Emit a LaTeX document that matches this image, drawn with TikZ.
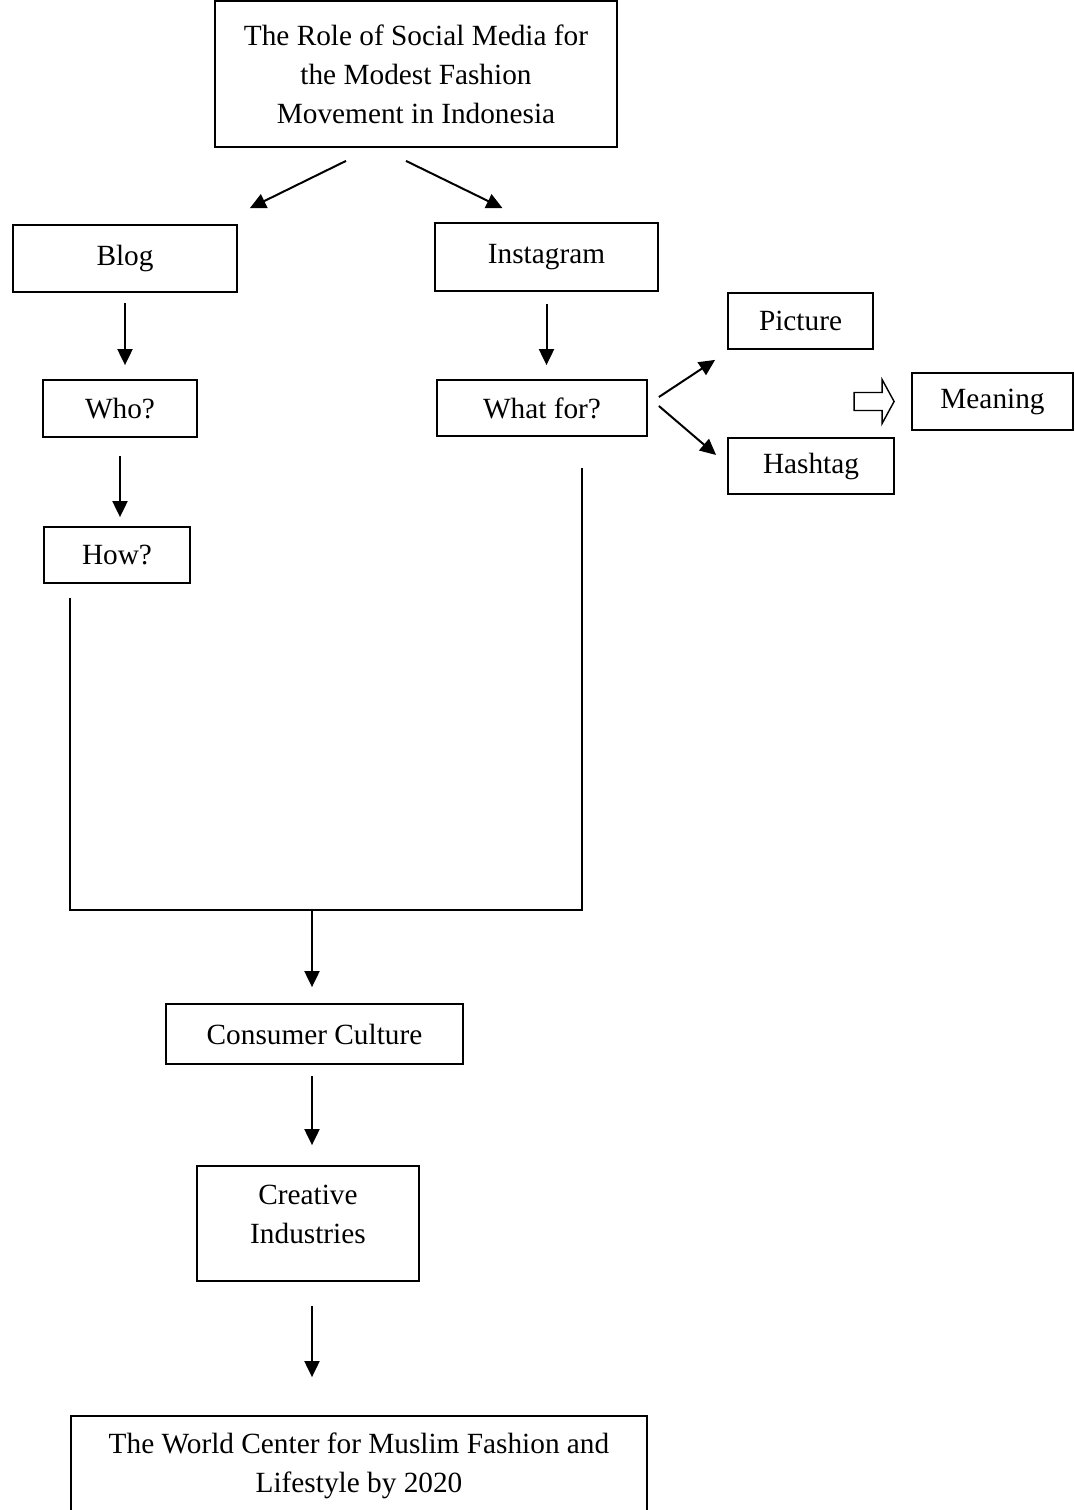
\documentclass[tikz,border=0pt]{standalone}
\usepackage{fontspec}
\setmainfont{Liberation Serif}
\usetikzlibrary{arrows.meta}
\usetikzlibrary{calc}

\begin{document}
\begin{tikzpicture}
		[x=1pt, y=-1pt, font=\fontsize{29.3}{39}\selectfont,
			box/.style={draw, line width=1.8pt, align=center, inner sep=0pt},
			arr/.style={line width=2pt, -{Triangle[length=16pt, width=15pt]}},
			link/.style={line width=1.8pt}]
		\useasboundingbox (0,0) rectangle (1075,1510);
		\clip (0,0) rectangle (1075,1510);
		% define the boxes
		\node[box, minimum width=402pt, minimum height=146pt] (title) at (416,74) {The Role of Social Media for\\the Modest Fashion\\Movement in Indonesia};
		\node[box, minimum width=224pt, minimum height=67pt] (blog) at (125,258.5) {Blog};
		\node[box, minimum width=223pt, minimum height=68pt] (insta) at (546.5,257) {Instagram};
		\node[box, minimum width=154pt, minimum height=57pt] (who) at (120,408.5) {Who?};
		\node[box, minimum width=146pt, minimum height=56pt] (how) at (117,555) {How?};
		\node[box, minimum width=210pt, minimum height=56pt] (whatfor) at (542,408) {What for?};
		\node[box, minimum width=145pt, minimum height=56pt] (picture) at (800.5,321) {Picture};
		\node[box, minimum width=166pt, minimum height=56pt] (hashtag) at (811,466) {Hashtag};
		\node[box, minimum width=161pt, minimum height=57pt] (meaning) at (992.5,401.5) {Meaning};
		\node[box, minimum width=297pt, minimum height=60pt] (consumer) at (314.5,1034) {Consumer Culture};
		\node[box, minimum width=222pt, minimum height=115pt, text depth=18pt] (creative) at (308,1223.5) {Creative\\Industries};
		\node[box, minimum width=576pt, minimum height=100pt] (world) at (359,1466) {The World Center for Muslim Fashion and\\Lifestyle by 2020};
		% arrows from the title
		\draw[arr] ($(title.south)+(-70,13)$) to ($(blog.north east)+(12,-16)$);
		\draw[arr] ($(title.south)+(-10,13)$) to ($(insta.north)+(-44,-14)$);
		% blog branch
		\draw[arr, shorten <=10pt, shorten >=14pt] (blog.south) to (blog.south |- who.north);
		\draw[arr, shorten <=18pt, shorten >=9pt] (who.south) to (who.south |- how.north);
		% instagram branch
		\draw[arr, shorten <=12pt, shorten >=14pt] (insta.south) to (insta.south |- whatfor.north);
		\draw[arr] ($(whatfor.east)+(11,-11)$) to ($(picture.south west)+(-12,10)$);
		\draw[arr] ($(whatfor.east)+(11,-2)$) to ($(hashtag.west)+(-11,-11)$);
		% hollow arrow to meaning
		\draw[line width=1.4pt, line join=miter] ($(meaning.west)+(-57,-9)$) -- ++(28,0) -- ++(0,-13) -- ++(12,22) -- ++(-12,22) -- ++(0,-13) -- ++(-28,0) -- cycle;
		% join both branches
		\coordinate (left) at ($(how.south west)+(27,14)$);
		\coordinate (right) at ($(whatfor.south)+(40,31)$);
		\coordinate (merge) at (312,910);
		\draw[link] (left) -- (left |- merge) -- (right |- merge) -- (right);
		\draw[arr, shorten >=16pt] (merge) to (merge |- consumer.north);
		% lower chain
		\draw[arr, shorten <=11pt, shorten >=20pt] (merge |- consumer.south) to (merge |- creative.north);
		\draw[arr, shorten <=24pt, shorten >=38pt] (merge |- creative.south) to (merge |- world.north);
	\end{tikzpicture}
\end{document}
